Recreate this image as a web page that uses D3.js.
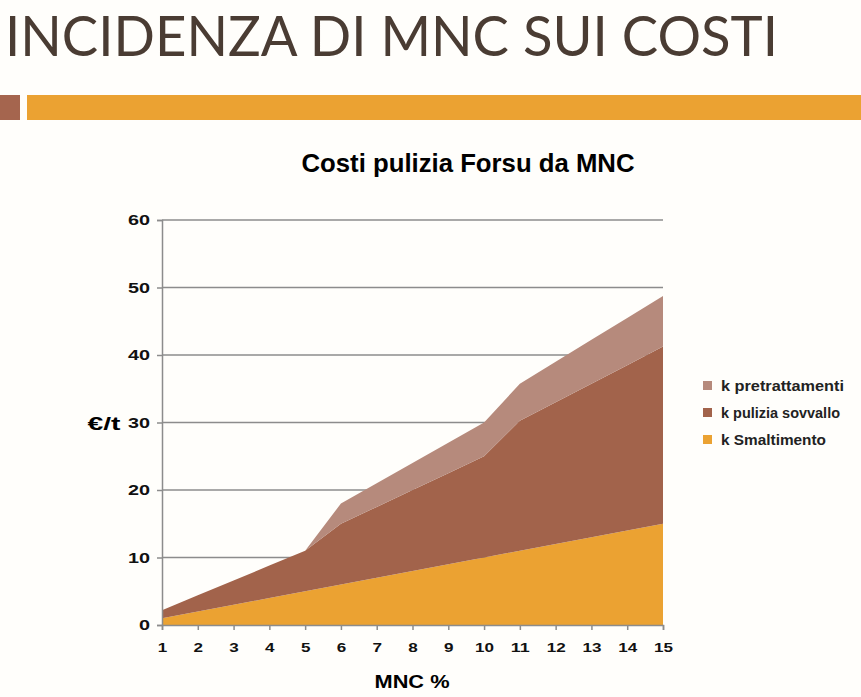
<!DOCTYPE html>
<html><head><meta charset="utf-8">
<script src="https://cdn.jsdelivr.net/npm/d3@7"></script>
<style>
html,body{margin:0;padding:0;background:#fff;}
svg{display:block;}
</style></head>
<body>
<script>
const categories = [1,2,3,4,5,6,7,8,9,10,11,12,13,14,15];
const smaltimento = [1,2,3,4,5,6,7,8,9,10,11,12,13,14,15];
const puliziaSovvallo = [1.2,2.4,3.6,4.8,6,9,10.5,12,13.5,15,19.25,21,22.75,24.5,26.25];
const pretrattamenti = [0,0,0,0,0,3,3.5,4,4.5,5,5.5,6,6.5,7,7.5];
const yTicks = [0,10,20,30,40,50,60];
const seriesNames = ["k Smaltimento","k pulizia sovvallo","k pretrattamenti"];
const colors = ["#EBA232","#A2634B","#B68A7C"];

const W=861,H=697;
const FONT="'Liberation Sans', Arial, sans-serif";
const svg=d3.select("body").append("svg").attr("width",W).attr("height",H);
svg.append("rect").attr("width",W).attr("height",H).attr("fill","#fffefb");

// Header
svg.append("text").attr("x",5).attr("y",56)
  .attr("font-family","Lato, 'Open Sans', sans-serif").attr("font-weight",400)
  .attr("font-size",56).attr("fill","#4a3c33")
  .attr("textLength",773).attr("lengthAdjust","spacingAndGlyphs")
  .text("INCIDENZA DI MNC SUI COSTI");
svg.append("rect").attr("x",0).attr("y",95).attr("width",20).attr("height",25).attr("fill","#A5654E");
svg.append("rect").attr("x",27).attr("y",95).attr("width",834).attr("height",25).attr("fill","#EBA232");

// Chart
const x=d3.scaleLinear().domain([1,15]).range([162,663]);
const y=d3.scaleLinear().domain([0,60]).range([625,220]);

svg.append("text").attr("x",468).attr("y",172).attr("text-anchor","middle")
  .attr("font-family",FONT).attr("font-weight","bold")
  .attr("font-size",25.5).attr("fill","#000")
  .attr("textLength",333).attr("lengthAdjust","spacingAndGlyphs")
  .text("Costi pulizia Forsu da MNC");

// gridlines
svg.append("g").selectAll("line").data(yTicks.filter(d=>d>0)).join("line")
  .attr("x1",162).attr("x2",663).attr("y1",d=>y(d)).attr("y2",d=>y(d))
  .attr("stroke","#8c8c8c").attr("stroke-width",1.5);

const data=categories.map((c,i)=>({c,s:smaltimento[i],p:puliziaSovvallo[i],t:pretrattamenti[i]}));
const stack=d3.stack().keys(["s","p","t"]);
const layers=stack(data);
const area=d3.area().x(d=>x(d.data.c)).y0(d=>y(d[0])).y1(d=>y(d[1]));
svg.append("g").selectAll("path").data(layers).join("path")
  .attr("d",area).attr("fill",(d,i)=>colors[i]);

// axes
const yAxis=d3.axisLeft(y).tickValues(yTicks).tickSize(5).tickFormat(d3.format("d"));
const gy=svg.append("g").attr("transform","translate(162,0)").call(yAxis);
gy.select(".domain").attr("stroke","#8c8c8c").attr("stroke-width",1.5);
gy.selectAll(".tick line").attr("stroke","#8c8c8c").attr("stroke-width",1.5);
gy.selectAll("text").attr("font-family",FONT)
  .attr("font-weight","bold").attr("font-size",15).attr("fill","#111").attr("x",-12)
  .attr("textLength",d=>String(d).length*11).attr("lengthAdjust","spacingAndGlyphs");

const xAxis=d3.axisBottom(x).tickValues(categories).tickSize(5).tickFormat(d3.format("d"));
const gx=svg.append("g").attr("transform","translate(0,625)").call(xAxis);
gx.select(".domain").attr("stroke","#8c8c8c").attr("stroke-width",1.5);
gx.selectAll(".tick line").attr("stroke","#8c8c8c").attr("stroke-width",1.5);
gx.selectAll("text").attr("font-family",FONT)
  .attr("font-weight","bold").attr("font-size",13.5).attr("fill","#111").attr("y",17)
  .attr("textLength",d=>String(d).length*9.5).attr("lengthAdjust","spacingAndGlyphs");

svg.append("text").attr("x",412).attr("y",688).attr("text-anchor","middle")
  .attr("font-family",FONT).attr("font-weight","bold")
  .attr("font-size",19).attr("fill","#000")
  .attr("textLength",75).attr("lengthAdjust","spacingAndGlyphs").text("MNC %");
svg.append("text").attr("x",104).attr("y",430).attr("text-anchor","middle")
  .attr("font-family",FONT).attr("font-weight","bold")
  .attr("font-size",19).attr("fill","#000")
  .attr("textLength",33).attr("lengthAdjust","spacingAndGlyphs").text("€/t");

// legend
const legOrder=[2,1,0];
const legWidths={2:123,1:119,0:105};
const lg=svg.append("g").selectAll("g").data(legOrder).join("g")
  .attr("transform",(d,i)=>`translate(703,${391+i*27})`);
lg.append("rect").attr("x",0).attr("y",-10).attr("width",9).attr("height",9).attr("fill",d=>colors[d]);
lg.append("text").attr("x",18).attr("y",0)
  .attr("font-family",FONT).attr("font-size",14).attr("font-weight","bold")
  .attr("fill","#222").attr("textLength",d=>legWidths[d]).attr("lengthAdjust","spacingAndGlyphs")
  .text(d=>seriesNames[d]);
</script>
</body></html>
